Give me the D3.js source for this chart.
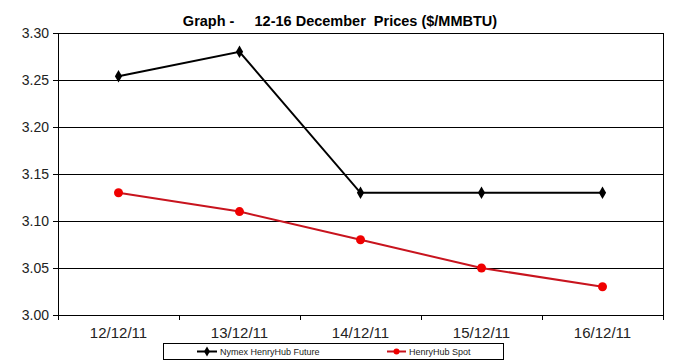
<!DOCTYPE html>
<html>
<head>
<meta charset="utf-8">
<script src="https://cdn.jsdelivr.net/npm/d3@7"></script>
<style>
  body { margin: 0; background: #fff; }
  text { font-family: "Liberation Sans", Arial, sans-serif; }
</style>
</head>
<body>
<svg id="chart" width="697" height="364"></svg>
<script>
var dates = ["12/12/11", "13/12/11", "14/12/11", "15/12/11", "16/12/11"];
var nymexFuture = [3.254, 3.28, 3.13, 3.13, 3.13];
var henryHubSpot = [3.13, 3.11, 3.08, 3.05, 3.03];
var yTicks = [3.00, 3.05, 3.10, 3.15, 3.20, 3.25, 3.30];

var svg = d3.select("#chart"),
  margin = {top: 33, right: 34, bottom: 49, left: 58},
  width = +svg.attr("width") - margin.left - margin.right,
  height = +svg.attr("height") - margin.top - margin.bottom,
  g = svg.append("g").attr("transform", "translate(" + margin.left + "," + margin.top + ")");

var x = d3.scaleBand()
  .domain(dates)
  .range([0, width]);

var y = d3.scaleLinear()
  .domain([3.00, 3.30])
  .range([height, 0]);

// horizontal gridlines
g.append("g")
  .selectAll("line")
  .data(yTicks)
  .enter().append("line")
  .attr("x1", 0)
  .attr("x2", width)
  .attr("y1", function(d) { return Math.round(y(d)) + 0.5; })
  .attr("y2", function(d) { return Math.round(y(d)) + 0.5; })
  .attr("stroke", "#000")
  .attr("stroke-width", 1);

// right border
g.append("line")
  .attr("x1", width + 0.5).attr("x2", width + 0.5)
  .attr("y1", 0).attr("y2", height)
  .attr("stroke", "#000");

// y axis
var yAxis = g.append("g")
  .call(d3.axisLeft(y).tickValues(yTicks).tickFormat(d3.format(".2f")).tickSize(5).tickPadding(4));
yAxis.select(".domain").attr("stroke", "#000");
yAxis.selectAll("text").style("font-size", "14px").attr("fill", "#222");

// x axis, ticks between categories
var xAxis = g.append("g")
  .attr("transform", "translate(0," + height + ")");
xAxis.append("line")
  .attr("x1", 0).attr("x2", width)
  .attr("y1", 0.5).attr("y2", 0.5)
  .attr("stroke", "#000");
xAxis.selectAll(".tick")
  .data(d3.range(dates.length + 1))
  .enter().append("line")
  .attr("x1", function(i) { return Math.round(i * x.step()) + 0.5; })
  .attr("x2", function(i) { return Math.round(i * x.step()) + 0.5; })
  .attr("y1", 0)
  .attr("y2", 5)
  .attr("stroke", "#000");
xAxis.selectAll(".lbl")
  .data(dates)
  .enter().append("text")
  .attr("x", function(d) { return x(d) + x.bandwidth() / 2; })
  .attr("y", 23)
  .attr("text-anchor", "middle")
  .style("font-size", "15px")
  .attr("fill", "#222")
  .text(function(d) { return d; });

var cx = function(d, i) { return x(dates[i]) + x.bandwidth() / 2; };

var line = d3.line()
  .x(function(d, i) { return x(dates[i]) + x.bandwidth() / 2; })
  .y(function(d) { return y(d); });

// Nymex series
g.append("path")
  .datum(nymexFuture)
  .attr("d", line)
  .attr("fill", "none")
  .attr("stroke", "#000")
  .attr("stroke-width", 2);

g.selectAll(".nym")
  .data(nymexFuture)
  .enter().append("path")
  .attr("class", "nym")
  .attr("d", d3.symbol().type(d3.symbolDiamond).size(45))
  .attr("transform", function(d, i) { return "translate(" + cx(d, i) + "," + y(d) + ")"; })
  .attr("fill", "#000");

// Spot series
g.append("path")
  .datum(henryHubSpot)
  .attr("d", line)
  .attr("fill", "none")
  .attr("stroke", "#c8141e")
  .attr("stroke-width", 2);

g.selectAll(".spot")
  .data(henryHubSpot)
  .enter().append("circle")
  .attr("class", "spot")
  .attr("cx", cx)
  .attr("cy", function(d) { return y(d); })
  .attr("r", 4.5)
  .attr("fill", "#f00000");

// title
svg.append("text")
  .attr("x", 340)
  .attr("y", 26)
  .attr("text-anchor", "middle")
  .style("font-size", "14.5px")
  .style("font-weight", "bold")
  .style("white-space", "pre")
  .attr("xml:space", "preserve")
  .text("Graph -     12-16 December  Prices ($/MMBTU)");

// legend
var leg = svg.append("g");
leg.append("rect")
  .attr("x", 163.5).attr("y", 343.5)
  .attr("width", 340).attr("height", 16)
  .attr("fill", "#fff")
  .attr("stroke", "#000");

leg.append("line").attr("x1", 197).attr("x2", 217).attr("y1", 351.5).attr("y2", 351.5)
  .attr("stroke", "#000").attr("stroke-width", 2);
leg.append("path").attr("d", d3.symbol().type(d3.symbolDiamond).size(30))
  .attr("transform", "translate(207,351.5)").attr("fill", "#000");
leg.append("text").attr("x", 220).attr("y", 355).style("font-size", "9px").attr("fill", "#222")
  .text("Nymex HenryHub Future");

leg.append("line").attr("x1", 387).attr("x2", 406).attr("y1", 351.5).attr("y2", 351.5)
  .attr("stroke", "#c8141e").attr("stroke-width", 2);
leg.append("circle").attr("cx", 396.5).attr("cy", 351.5).attr("r", 3).attr("fill", "#f00000");
leg.append("text").attr("x", 409).attr("y", 355).style("font-size", "9px").attr("fill", "#222")
  .text("HenryHub Spot");
</script>
</body>
</html>
